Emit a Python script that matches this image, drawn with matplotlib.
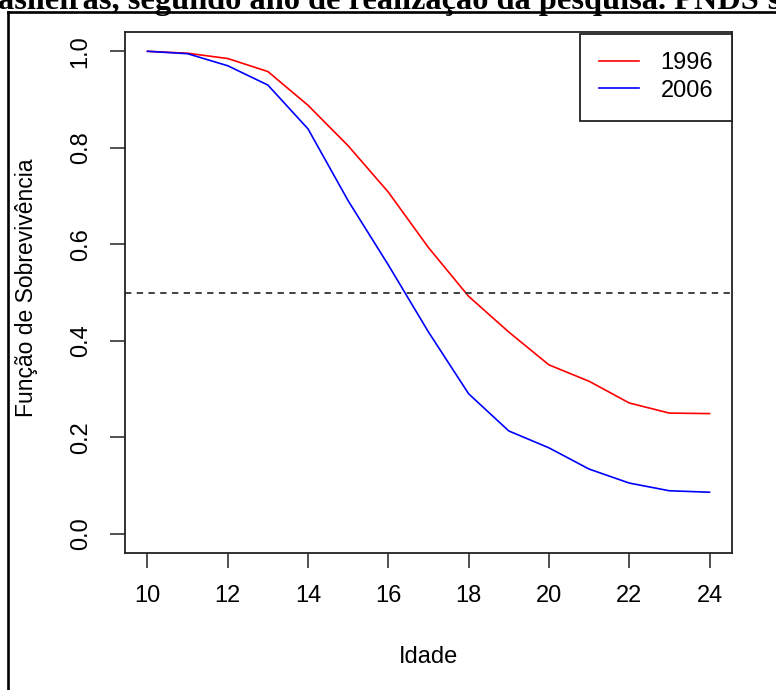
import matplotlib
matplotlib.use("Agg")
import matplotlib.pyplot as plt
from matplotlib.lines import Line2D

# survival curves
idade = [10, 11, 12, 13, 14, 15, 16, 17, 18, 19, 20, 21, 22, 23, 24]
s1996 = [1.0, 0.996, 0.985, 0.958, 0.888, 0.804, 0.708, 0.593, 0.492, 0.418,
         0.350, 0.316, 0.271, 0.250, 0.249]
s2006 = [1.0, 0.995, 0.970, 0.930, 0.839, 0.690, 0.557, 0.418, 0.290, 0.213,
         0.178, 0.134, 0.105, 0.089, 0.086]
series_labels = ["1996", "2006"]
xticks = [10, 12, 14, 16, 18, 20, 22, 24]
yticks = [0.0, 0.2, 0.4, 0.6, 0.8, 1.0]
header = "asileiras, segundo ano de realização da pesquisa. PNDS's"

W, H = 776, 690
plt.rcParams["font.family"] = ["Liberation Sans", "DejaVu Sans"]

fig = plt.figure(figsize=(W / 100, H / 100), dpi=100)

# axes box in pixels: left 125, right 732, top 32, bottom 553
left, right, top, bottom = 125, 732, 32, 553
ax = fig.add_axes([left / W, (H - bottom) / H, (right - left) / W, (bottom - top) / H])

ax.plot(idade, s1996, color="#ff0000", lw=1.2, label=series_labels[0])
ax.plot(idade, s2006, color="#0000ff", lw=1.2, label=series_labels[1])
ax.axhline(0.5, color="#333333", lw=1.3, ls=(0, (3.5, 3)))

ax.set_xlim(9.44, 24.56)
ax.set_ylim(-0.04, 1.04)
ax.set_xticks(xticks)
ax.set_xticklabels([str(t) for t in xticks])
ax.set_yticks(yticks)
ax.set_yticklabels([f"{t:.1f}" for t in yticks], rotation=90, va="center")

fs = 17
ax.tick_params(axis="both", direction="out", length=11, width=1.1,
               color="#222222", labelsize=fs, labelcolor="black")
ax.tick_params(axis="x", pad=12)
ax.tick_params(axis="y", pad=13)
for sp in ax.spines.values():
    sp.set_color("#222222")
    sp.set_linewidth(1.3)

ax.set_xlabel("Idade", fontsize=fs, va="center")
ax.xaxis.set_label_coords(0.5, -(657 - bottom) / (bottom - top))
ax.set_ylabel("Função de Sobrevivência", fontsize=16.5, va="center")
ax.yaxis.set_label_coords(-(left - 26) / (right - left), 0.51)

leg = ax.legend(loc="upper right", bbox_to_anchor=(1.0, 0.997), borderaxespad=0,
                fancybox=False, framealpha=1, edgecolor="#222222",
                fontsize=fs, handlelength=1.7, handletextpad=0.9,
                borderpad=0.8, labelspacing=0.22)
leg.get_frame().set_linewidth(1.3)

# page frame and the cropped caption above it
fig.add_artist(Line2D([8 / W, 8 / W], [1 - 12 / H, -0.05], transform=fig.transFigure,
                      color="black", lw=1.9))
fig.add_artist(Line2D([8 / W, 1.05], [1 - 12 / H, 1 - 12 / H], transform=fig.transFigure,
                      color="black", lw=1.9))
fig.text(-0.002, 1 - 9 / H, header, fontsize=23.3, fontweight="bold",
         family=["Liberation Serif", "DejaVu Serif"], va="baseline", ha="left")

fig.savefig("out.png", dpi=100)
